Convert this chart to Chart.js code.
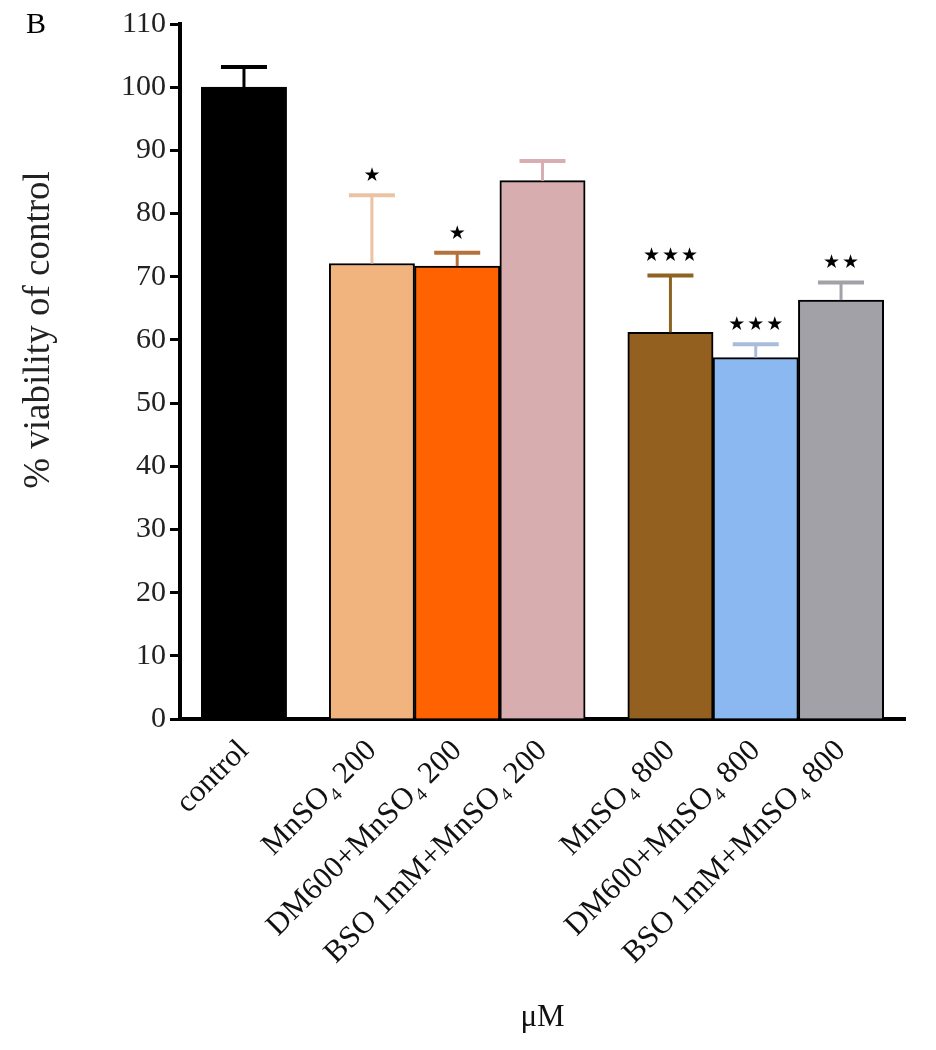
<!DOCTYPE html>
<html>
<head>
<meta charset="utf-8">
<script src="https://cdn.jsdelivr.net/npm/chart.js@4.4.1/dist/chart.umd.min.js"></script>
<style>
  html, body { margin: 0; padding: 0; background: #fff; }
  #wrap { position: relative; width: 936px; height: 1050px; }
</style>
</head>
<body>
<div id="wrap"><canvas id="viabilityChart" width="936" height="1050"></canvas></div>
<script>
// Data
const categories = ["control", "MnSO\u2084 200", "DM600+MnSO\u2084 200", "BSO 1mM+MnSO\u2084 200",
  "MnSO\u2084 800", "DM600+MnSO\u2084 800", "BSO 1mM+MnSO\u2084 800"];
const groups = [0, 1, 1, 1, 2, 2, 2];
const viability = [100, 72.1, 71.7, 85.2, 61.2, 57.2, 66.3];
const sem = [3.2, 10.8, 2.1, 3.1, 9.0, 2.1, 2.8];
const stars = ["", "\u2605", "\u2605", "", "\u2605\u2605\u2605", "\u2605\u2605\u2605", "\u2605\u2605"];
const yTicks = [0, 10, 20, 30, 40, 50, 60, 70, 80, 90, 100, 110];

const barColors = ["#000000", "#F2B47E", "#FF6200", "#D7ADB0", "#93601F", "#8CB8F2", "#A2A1A8"];
const errColors = ["#000000", "#E9C3A3", "#B4713C", "#D9AEB2", "#8C6322", "#A9BDDA", "#A2A1A8"];

// bar slot positions: 2 units per bar, 1 unit gap between groups
const xPos = categories.map((c, i) => 1.5 + i * 2 + groups[i]);

const serif = "'Liberation Serif', 'Times New Roman', serif";

// Error bars + significance stars
const errorBars = {
  id: "errorBars",
  afterDatasetsDraw(chart) {
    const ctx = chart.ctx;
    const yScale = chart.scales.y;
    const meta = chart.getDatasetMeta(0);
    meta.data.forEach((bar, i) => {
      const topY = yScale.getPixelForValue(viability[i] + sem[i]);
      ctx.save();
      ctx.strokeStyle = errColors[i];
      ctx.lineWidth = 3;
      ctx.beginPath();
      ctx.moveTo(bar.x, bar.y);
      ctx.lineTo(bar.x, topY);
      ctx.stroke();
      ctx.lineWidth = 4;
      ctx.beginPath();
      ctx.moveTo(bar.x - 23, topY);
      ctx.lineTo(bar.x + 23, topY);
      ctx.stroke();
      if (stars[i]) {
        ctx.fillStyle = "#000";
        ctx.font = "19px 'DejaVu Sans'";
        ctx.textAlign = "center";
        ctx.textBaseline = "middle";
        ctx.letterSpacing = "2px";
        ctx.fillText(stars[i], bar.x + 1, topY - 19);
      }
      ctx.restore();
    });
  }
};

// Panel letter and y-axis title (title sits above the axis middle, as in the figure)
const extraText = {
  id: "extraText",
  afterDraw(chart) {
    const ctx = chart.ctx;
    ctx.save();
    ctx.fillStyle = "#000";
    ctx.font = "30px " + serif;
    ctx.textBaseline = "middle";
    ctx.fillText("B", 26, 25);
    ctx.translate(39, 330);
    ctx.rotate(-Math.PI / 2);
    ctx.fillStyle = "#222";
    ctx.font = "37px " + serif;
    ctx.textAlign = "center";
    ctx.fillText("% viability of control", 0, 0);
    ctx.restore();
  }
};

const ctx = document.getElementById("viabilityChart").getContext("2d");
const viabilityChart = new Chart(ctx, {
  type: "bar",
  data: {
    datasets: [
      {
        data: xPos.map((x, i) => ({ x: x, y: viability[i] })),
        backgroundColor: barColors,
        borderColor: "#000",
        borderWidth: 2,
        borderSkipped: "bottom",
        barPercentage: 1,
        categoryPercentage: 1,
      },
    ],
  },
  options: {
    responsive: false,
    animation: false,
    devicePixelRatio: 1,
    layout: { padding: { top: 24, right: 31, bottom: 0, left: 0 } },
    plugins: {
      legend: { display: false },
      tooltip: { enabled: false },
    },
    scales: {
      x: {
        type: "linear",
        offset: false,
        min: 0,
        max: 17,
        grid: { display: false },
        border: { display: true, width: 4, color: "#000" },
        afterBuildTicks: (axis) => {
          axis.ticks = xPos.map((v) => ({ value: v }));
        },
        afterFit: (axis) => {
          axis.height = 331;
        },
        ticks: {
          autoSkip: false,
          minRotation: 45,
          maxRotation: 45,
          padding: 6,
          color: "#111",
          font: { family: serif, size: 31 },
          callback: (value, index) => categories[index],
        },
        title: {
          display: true,
          text: "\u03bcM",
          color: "#111",
          font: { family: serif, size: 31 },
          padding: { top: 0, bottom: 14 },
        },
      },
      y: {
        min: 0,
        max: 110,
        afterBuildTicks: (axis) => {
          axis.ticks = yTicks.map((v) => ({ value: v }));
        },
        afterFit: (axis) => {
          axis.width = 180;
        },
        grid: {
          drawOnChartArea: false,
          drawTicks: true,
          tickLength: 10,
          tickWidth: 3,
          tickColor: "#000",
        },
        border: { display: true, width: 4, color: "#000" },
        ticks: {
          padding: 4,
          color: "#222",
          font: { family: serif, size: 30 },
        },
      },
    },
  },
  plugins: [errorBars, extraText],
});
</script>
</body>
</html>
